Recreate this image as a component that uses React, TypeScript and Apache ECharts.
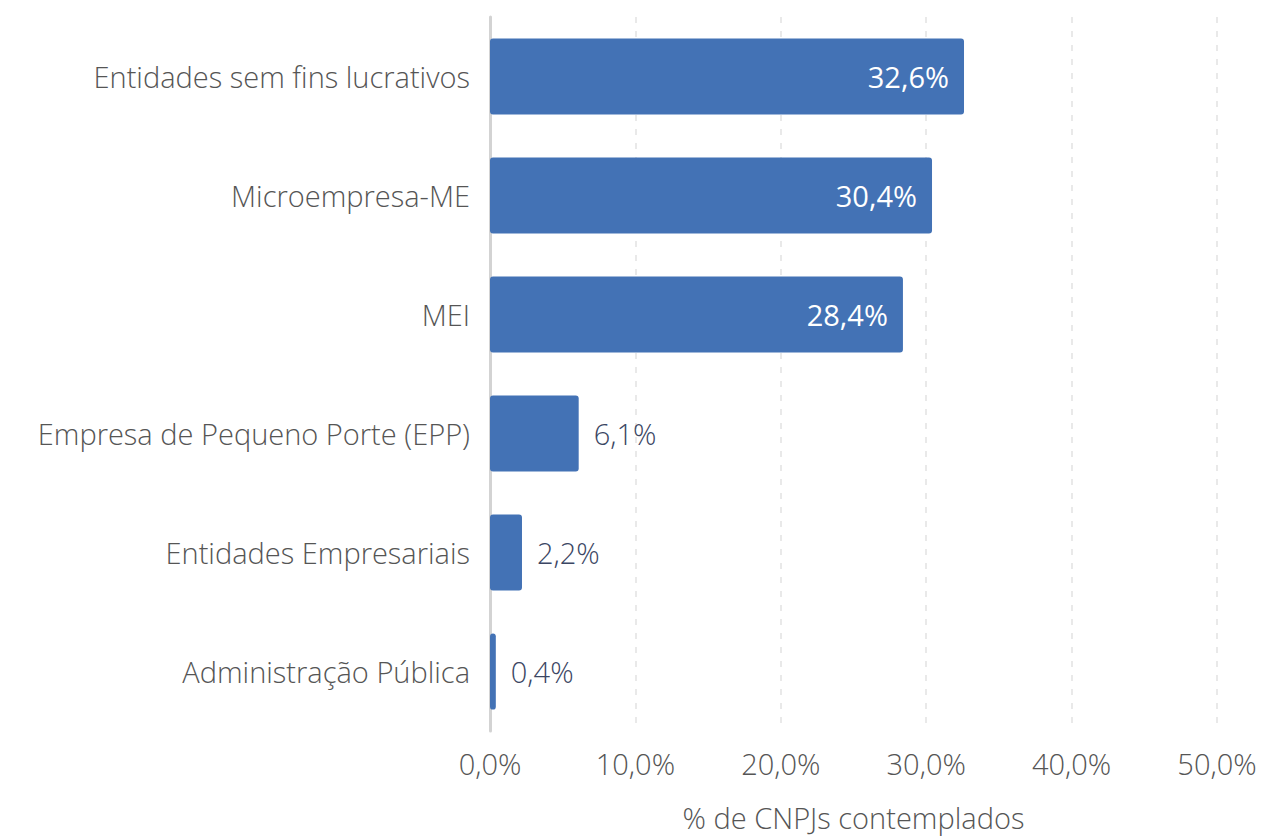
import React, { useEffect, useRef } from "react";
import * as echarts from "echarts";

const categories = [
  "Entidades sem fins lucrativos",
  "Microempresa-ME",
  "MEI",
  "Empresa de Pequeno Porte (EPP)",
  "Entidades Empresariais",
  "Administração Pública",
];
const values = [32.6, 30.4, 28.4, 6.1, 2.2, 0.4];
const xTicks = { min: 0, max: 50, interval: 10 };
const axisName = "% de CNPJs contemplados";

const fmt = (v: number) => v.toFixed(1).replace(".", ",") + "%";
const FONT = "Open Sans";
const FS = 29;

export default function App() {
  const ref = useRef<HTMLDivElement>(null);
  useEffect(() => {
    if (!ref.current) return;
    const chart = echarts.init(ref.current, undefined, { renderer: "svg" });
    chart.setOption({
      animation: false,
      textStyle: { fontFamily: FONT },
      grid: { left: 490, right: 44, top: 17, bottom: 94, containLabel: false },
      xAxis: {
        type: "value",
        min: xTicks.min,
        max: xTicks.max,
        interval: xTicks.interval,
        axisLine: { show: false },
        axisTick: { show: false },
        splitLine: { show: true, lineStyle: { type: [6, 8], color: "#e2e2e2", width: 1.5 } },
        axisLabel: {
          formatter: (v: number) => fmt(v),
          color: "#555555",
          fontSize: FS,
          fontFamily: FONT,
          fontWeight: 300,
          margin: 18,
        },
        name: axisName,
        nameLocation: "middle",
        nameGap: 72,
        nameTextStyle: { color: "#555555", fontSize: FS, fontFamily: FONT, fontWeight: 300 },
      },
      yAxis: {
        type: "category",
        data: categories,
        inverse: true,
        axisLine: { show: true, lineStyle: { color: "#d3d3d3", width: 3 } },
        axisTick: { show: false },
        axisLabel: {
          color: "#555555",
          fontSize: FS,
          fontFamily: FONT,
          fontWeight: 300,
          margin: 20,
        },
      },
      series: [
        {
          type: "bar",
          barWidth: "64%",
          itemStyle: { color: "#4372b5", borderRadius: 3 },
          data: values.map((v) => ({
            value: v,
            label:
              v > 20
                ? {
                    show: true,
                    position: "insideRight",
                    distance: 15,
                    color: "#ffffff",
                    fontSize: FS,
                    fontFamily: FONT,
                    fontWeight: 400,
                    formatter: () => fmt(v),
                  }
                : {
                    show: true,
                    position: "right",
                    distance: 15,
                    color: "#3b4663",
                    fontSize: FS,
                    fontFamily: FONT,
                    fontWeight: 300,
                    formatter: () => fmt(v),
                  },
          })),
        },
      ],
    });
    return () => chart.dispose();
  }, []);
  return (
    <div
      ref={ref}
      style={{ position: "fixed", left: 0, top: 0, width: 1261, height: 837, background: "#fff" }}
    />
  );
}
